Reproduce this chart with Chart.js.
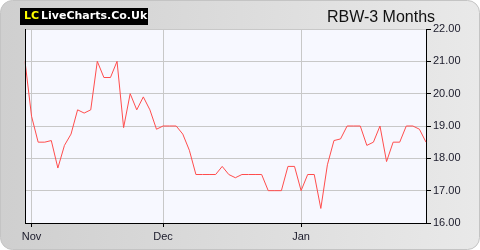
<!DOCTYPE html>
<html>
<head>
<meta charset="utf-8">
<script src="https://cdn.jsdelivr.net/npm/chart.js@4/dist/chart.umd.min.js"></script>
<style>
  html, body { margin: 0; padding: 0; background: #fff; }
  #wrap { width: 480px; height: 250px; }
</style>
</head>
<body>
<div id="wrap"><canvas id="chart" width="480" height="250"></canvas></div>
<script>
// RBW closing prices, last 3 months (one per trading day)
const prices = [
  21.00, 19.30, 18.50, 18.50, 18.55, 17.70, 18.40, 18.75, 19.50, 19.40,
  19.50, 21.00, 20.50, 20.50, 21.00, 18.95, 20.00, 19.50, 19.90, 19.50,
  18.90, 19.00, 19.00, 19.00, 18.75, 18.25, 17.50, 17.50, 17.50, 17.50,
  17.75, 17.50, 17.40, 17.50, 17.50, 17.50, 17.50, 17.00, 17.00, 17.00,
  17.75, 17.75, 17.00, 17.50, 17.50, 16.45, 17.80, 18.55, 18.60, 19.00,
  19.00, 19.00, 18.40, 18.50, 19.00, 17.90, 18.50, 18.50, 19.00, 19.00,
  18.90, 18.50
];
const monthNames = ["Nov", "Dec", "Jan"];
const monthStarts = [1, 21, 42]; // index of first trading day of each month
const yMin = 16;
const yMax = 22;

const labels = prices.map((p, i) => {
  const m = monthStarts.indexOf(i);
  return m >= 0 ? monthNames[m] : "";
});

const chartDOM = document.getElementById("chart");

// background, plot area, logo and title
const decorations = {
  id: "decorations",
  beforeDraw(chart) {
    const ctx = chart.ctx;
    const area = chart.chartArea;
    ctx.save();
    ctx.fillStyle = "#fff";
    ctx.fillRect(0, 0, chart.width, chart.height);

    const grad = ctx.createLinearGradient(0, 0, chart.width, 0);
    grad.addColorStop(0, "#cfcfcf");
    grad.addColorStop(1, "#e9e9e9");
    ctx.beginPath();
    ctx.roundRect(0.5, 0.5, chart.width - 1, chart.height - 1, 12);
    ctx.fillStyle = grad;
    ctx.fill();
    ctx.strokeStyle = "#c4c4c4";
    ctx.lineWidth = 1;
    ctx.stroke();

    ctx.fillStyle = "#f7f8ff";
    ctx.fillRect(area.left, area.top, area.right - area.left, area.bottom - area.top);

    // logo
    ctx.fillStyle = "#000";
    ctx.fillRect(20, 8, 128, 17);
    ctx.font = "bold 11px 'DejaVu Sans'";
    ctx.textBaseline = "middle";
    ctx.fillStyle = "#ffff00";
    ctx.fillText("LC", 24, 16.5);
    ctx.fillStyle = "#fff";
    ctx.fillText("LiveCharts.Co.Uk", 41, 16.5);

    // title
    ctx.font = "16px 'Liberation Sans'";
    ctx.textAlign = "center";
    ctx.textBaseline = "alphabetic";
    ctx.fillStyle = "#111";
    ctx.fillText("RBW-3 Months", 381, 22);
    ctx.restore();
  },
  afterDraw(chart) {
    const ctx = chart.ctx;
    const area = chart.chartArea;
    ctx.save();
    ctx.strokeStyle = "#000";
    ctx.lineWidth = 1;
    ctx.beginPath();
    ctx.moveTo(area.left + 0.5, area.top);
    ctx.lineTo(area.left + 0.5, area.bottom);
    ctx.stroke();
    ctx.restore();
  }
};

const chart = new Chart(chartDOM, {
  type: "line",
  data: {
    labels: labels,
    datasets: [{
      data: prices,
      borderColor: "#ff4d4d",
      borderWidth: 1,
      pointRadius: 0,
      tension: 0,
      fill: false
    }]
  },
  options: {
    responsive: false,
    animation: false,
    devicePixelRatio: 1,
    layout: { padding: { left: 25, top: 29, right: 0, bottom: 0 } },
    plugins: {
      legend: { display: false },
      tooltip: { enabled: false }
    },
    scales: {
      x: {
        type: "category",
        offset: false,
        afterFit: s => { s.height = 27; },
        border: { color: "#000", width: 1 },
        grid: { color: "#c8c8c8", tickColor: "#000", tickLength: 4 },
        ticks: {
          autoSkip: false,
          maxRotation: 0,
          padding: 3,
          color: "#1a1a2a",
          font: { family: "'Liberation Sans'", size: 11 },
          callback: (v, i) => labels[i] ? labels[i] : null
        }
      },
      y: {
        position: "right",
        min: yMin,
        max: yMax,
        afterFit: s => { s.width = 54; },
        border: { color: "#000", width: 1 },
        grid: { color: "#c8c8c8", tickColor: "#000", tickLength: 5 },
        ticks: {
          stepSize: 1,
          padding: 2,
          color: "#1a1a2a",
          font: { family: "'Liberation Sans'", size: 11 },
          callback: v => v.toFixed(2)
        }
      }
    }
  },
  plugins: [decorations]
});
</script>
</body>
</html>
